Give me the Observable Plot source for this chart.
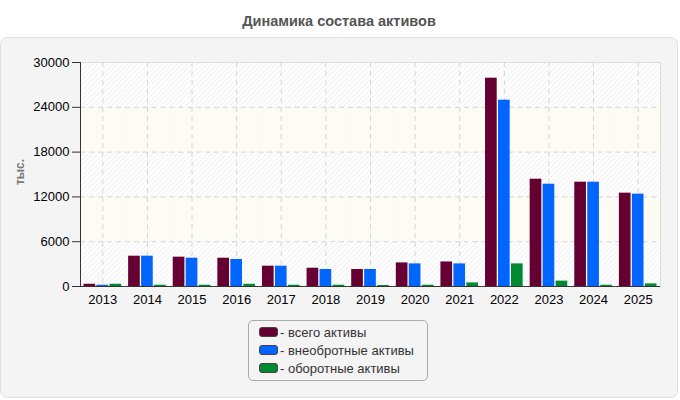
<!DOCTYPE html>
<html><head><meta charset="utf-8">
<script src="https://cdn.jsdelivr.net/npm/d3@7"></script>
<script src="https://cdn.jsdelivr.net/npm/@observablehq/plot@0.6"></script>
<style>
body{margin:0;background:#fff;font-family:"Liberation Sans",Arial,sans-serif;width:680px;height:400px;position:relative;overflow:hidden}
#title{position:absolute;left:0;top:13px;width:678px;text-align:center;font-weight:bold;font-size:14.5px;color:#555}
#panel{position:absolute;left:0;top:37px;width:676px;height:359px;background:#f4f4f4;border:1px solid #e0e0e0;border-radius:7px}
#chart{position:absolute;left:0;top:37px}
#ylabel{position:absolute;left:20px;top:172px;transform:translate(-50%,-50%) rotate(-90deg);font-weight:bold;font-size:12px;color:#777;white-space:nowrap}
#legend{position:absolute;left:248px;top:320px;width:180px;height:61px;border:1px solid #aaa;border-radius:5px;box-sizing:border-box;padding-top:2px}
.item{height:18px;display:flex;align-items:center;padding-left:10px;font-size:13px;color:#333}
.sw{width:17px;height:8px;border:1px solid #444;border-radius:3px;margin-right:2px}
</style></head>
<body>
<div id="title">Динамика состава активов</div>
<div id="panel"></div>
<div id="chart"></div>
<div id="ylabel">тыс.</div>
<div id="legend"></div>
<script>
const years = [2013,2014,2015,2016,2017,2018,2019,2020,2021,2022,2023,2024,2025];
const seriesNames = ["всего активы","внеобротные активы","оборотные активы"];
const totalAssets = [300,4060,3930,3790,2720,2450,2280,3160,3290,27900,14370,13970,12500];
const nonCurrentAssets = [170,4060,3790,3620,2720,2280,2280,3030,3030,24950,13700,13970,12370];
const currentAssets = [300,170,170,300,170,170,130,170,480,3030,720,170,350];
const seriesColors = ["#660033","#0066ff","#008833"];
const yTicks = [0,6000,12000,18000,24000,30000];

const seriesValues = [totalAssets, nonCurrentAssets, currentAssets];
const rows = [];
years.forEach((yr, i) => seriesNames.forEach((s, j) => rows.push({year: yr, series: s, value: seriesValues[j][i]})));
const bands = yTicks.slice(0, -1).map((t, i) => ({y1: t, y2: yTicks[i + 1], hatch: i % 2 === 0}));

const svg = Plot.plot({
  width: 680, height: 280,
  marginLeft: 80, marginRight: 20, marginTop: 25, marginBottom: 31,
  style: {background: "transparent", fontFamily: "'Liberation Sans', Arial, sans-serif", fontSize: "13px", color: "#000"},
  fx: {domain: years, paddingInner: 0, paddingOuter: 0, round: false, label: null, axis: null},
  x: {domain: seriesNames, paddingInner: 0.1, paddingOuter: 0.27, round: false, axis: null},
  y: {domain: [0, 30000], axis: null},
  color: {domain: seriesNames, range: seriesColors},
  marks: [
    Plot.rect(bands.filter(d => d.hatch), {y1: "y1", y2: "y2", fill: "url(#hatch)"}),
    Plot.rect(bands.filter(d => !d.hatch), {y1: "y1", y2: "y2", fill: "#fcfcf4"}),
    Plot.gridY(yTicks, {stroke: "#d4d4d4", strokeOpacity: 1, strokeDasharray: "5,4"}),
    Plot.gridFx({stroke: "#d4d4d4", strokeOpacity: 1, strokeDasharray: "5,4"}),
    Plot.barY(rows, {fx: "year", x: "series", y: "value", fill: "series"}),
    Plot.frame({anchor: "top", stroke: "#dddddd"}),
    Plot.frame({anchor: "right", stroke: "#dddddd", facetAnchor: "right"}),
    Plot.ruleY([0], {stroke: "#333"}),
    Plot.frame({anchor: "left", stroke: "#333", facetAnchor: "left"}),
    Plot.axisY(yTicks, {tickSize: 8, tickPadding: 3, fontSize: 13, fill: "#000", stroke: "#333", label: null, tickFormat: d => String(d)}),
    Plot.axisFx({anchor: "bottom", tickSize: 0, tickPadding: 8, fontSize: 13, fill: "#000", label: null, tickFormat: d => String(d)})
  ]
});

const defs = d3.select(svg).insert("defs", ":first-child");
const pat = defs.append("pattern").attr("id", "hatch").attr("patternUnits", "userSpaceOnUse").attr("width", 5).attr("height", 5);
pat.append("rect").attr("width", 5).attr("height", 5).attr("fill", "#ffffff");
pat.append("path").attr("d", "M0,5L5,0M-1,1L1,-1M4,6L6,4").attr("stroke", "#ececec").attr("stroke-width", 1);
document.getElementById("chart").appendChild(svg);

const legend = document.getElementById("legend");
seriesNames.forEach((s, i) => {
  const it = document.createElement("div");
  it.className = "item";
  const sw = document.createElement("span");
  sw.className = "sw";
  sw.style.background = seriesColors[i];
  it.appendChild(sw);
  it.appendChild(document.createTextNode("- " + s));
  legend.appendChild(it);
});
</script>
</body></html>
